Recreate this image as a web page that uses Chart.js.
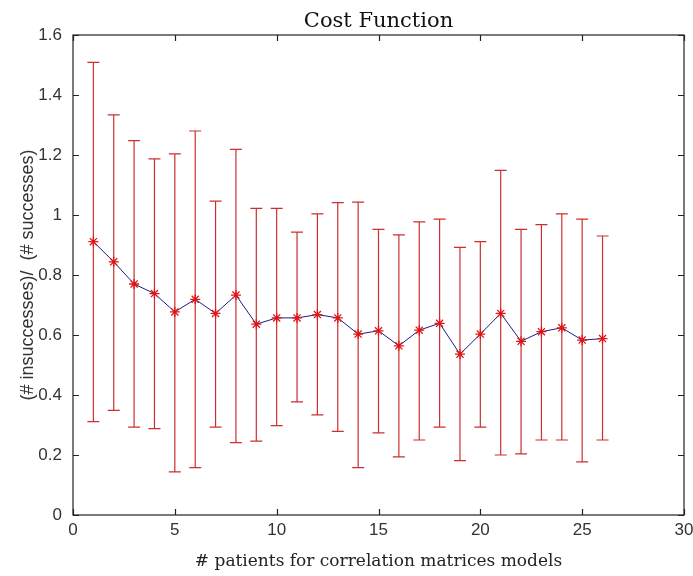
<!DOCTYPE html>
<html>
<head>
<meta charset="utf-8">
<script src="https://cdn.jsdelivr.net/npm/chart.js@4"></script>
<style>
  body { margin: 0; background: #fff; }
  #wrap { width: 693px; height: 576px; }
</style>
</head>
<body>
<div id="wrap"><canvas id="myChart" width="693" height="576"></canvas></div>
<script>
// values
const patients = [1, 2, 3, 4, 5, 6, 7, 8, 9, 10, 11, 12, 13, 14, 15, 16, 17, 18, 19, 20, 21, 22, 23, 24, 25, 26];
const meanCost = [0.911, 0.844, 0.770, 0.738, 0.677, 0.719, 0.672, 0.733, 0.636, 0.657, 0.657, 0.668, 0.657,
                  0.603, 0.614, 0.564, 0.616, 0.639, 0.536, 0.603, 0.672, 0.579, 0.611, 0.624, 0.583, 0.588];
const upperCost = [1.509, 1.334, 1.248, 1.187, 1.204, 1.280, 1.046, 1.219, 1.022, 1.022, 0.943, 1.004, 1.041,
                   1.043, 0.952, 0.934, 0.977, 0.986, 0.892, 0.911, 1.149, 0.952, 0.968, 1.004, 0.986, 0.930];
const lowerCost = [0.311, 0.349, 0.293, 0.288, 0.144, 0.158, 0.293, 0.241, 0.246, 0.298, 0.377, 0.334, 0.279,
                   0.158, 0.274, 0.194, 0.250, 0.293, 0.181, 0.293, 0.200, 0.204, 0.250, 0.250, 0.177, 0.250];
const xTicks = [0, 5, 10, 15, 20, 25, 30];
const yTicks = [0, 0.2, 0.4, 0.6, 0.8, 1, 1.2, 1.4, 1.6];

const serif = "'DejaVu Serif', 'Liberation Serif', serif";
const sans = "'Liberation Sans', Arial, sans-serif";

// error bars under the line
const errorBars = {
    id: 'errorBars',
    beforeDatasetsDraw(chart) {
        const ctx = chart.ctx;
        const xs = chart.scales.x, ys = chart.scales.y;
        ctx.save();
        ctx.strokeStyle = '#cc2f2f';
        ctx.lineWidth = 1.2;
        patients.forEach((p, i) => {
            const px = xs.getPixelForValue(p);
            const top = ys.getPixelForValue(upperCost[i]);
            const bot = ys.getPixelForValue(lowerCost[i]);
            ctx.beginPath();
            ctx.moveTo(px, top); ctx.lineTo(px, bot);
            ctx.moveTo(px - 6, top); ctx.lineTo(px + 6, top);
            ctx.moveTo(px - 6, bot); ctx.lineTo(px + 6, bot);
            ctx.stroke();
        });
        ctx.restore();
    }
};

// matlab style box with inward ticks
const boxFrame = {
    id: 'boxFrame',
    afterDraw(chart) {
        const ctx = chart.ctx;
        const a = chart.chartArea;
        const xs = chart.scales.x, ys = chart.scales.y;
        ctx.save();
        ctx.strokeStyle = '#222';
        ctx.lineWidth = 1.2;
        ctx.strokeRect(a.left, a.top, a.right - a.left, a.bottom - a.top);
        ctx.beginPath();
        xTicks.forEach(v => {
            const px = Math.round(xs.getPixelForValue(v)) + 0.5;
            ctx.moveTo(px, a.bottom); ctx.lineTo(px, a.bottom - 6);
            ctx.moveTo(px, a.top); ctx.lineTo(px, a.top + 6);
        });
        yTicks.forEach(v => {
            const py = Math.round(ys.getPixelForValue(v)) + 0.5;
            ctx.moveTo(a.left, py); ctx.lineTo(a.left + 6, py);
            ctx.moveTo(a.right, py); ctx.lineTo(a.right - 6, py);
        });
        ctx.stroke();
        ctx.restore();
    }
};

new Chart('myChart', {
    type: 'line',
    data: {
        datasets: [{
            data: patients.map((p, i) => ({ x: p, y: meanCost[i] })),
            borderColor: '#1c1c8a',
            borderWidth: 1,
            pointStyle: 'star',
            pointRadius: 5,
            pointBorderColor: '#e01515',
            pointBorderWidth: 1.3,
            pointBackgroundColor: '#e01515',
            tension: 0
        }]
    },
    options: {
        responsive: false,
        animation: false,
        layout: { padding: { left: 0, right: 0, top: 0, bottom: 0 } },
        plugins: {
            legend: { display: false },
            tooltip: { enabled: false },
            title: {
                display: true,
                fullSize: false,
                text: 'Cost Function',
                color: '#111',
                font: { family: serif, size: 21, weight: 'normal', lineHeight: 1 },
                padding: { top: 11, bottom: 3 }
            }
        },
        scales: {
            x: {
                type: 'linear',
                min: 0, max: 30,
                afterFit(scale) {
                    scale.height = 61;
                    scale.paddingRight = 9;
                    scale.paddingLeft = 0;
                },
                afterBuildTicks(scale) { scale.ticks = xTicks.map(v => ({ value: v })); },
                grid: { display: false, drawTicks: false },
                border: { display: false },
                ticks: {
                    color: '#333',
                    padding: 5,
                    maxRotation: 0,
                    font: { family: sans, size: 17 }
                },
                title: {
                    display: true,
                    text: '# patients for correlation matrices models',
                    color: '#222',
                    font: { family: serif, size: 17 },
                    padding: { top: 0, bottom: 4 }
                }
            },
            y: {
                min: 0, max: 1.6,
                afterFit(scale) { scale.width = 73; },
                afterBuildTicks(scale) { scale.ticks = yTicks.map(v => ({ value: v })); },
                grid: { display: false, drawTicks: false },
                border: { display: false },
                ticks: {
                    color: '#333',
                    padding: 11,
                    font: { family: sans, size: 17 },
                    callback: v => String(+v.toFixed(1))
                },
                title: {
                    display: true,
                    text: '(# insuccesses)/  (# successes)',
                    color: '#333',
                    font: { family: sans, size: 18 },
                    padding: { top: 17, bottom: 0 }
                }
            }
        }
    },
    plugins: [errorBars, boxFrame]
});
</script>
</body>
</html>
